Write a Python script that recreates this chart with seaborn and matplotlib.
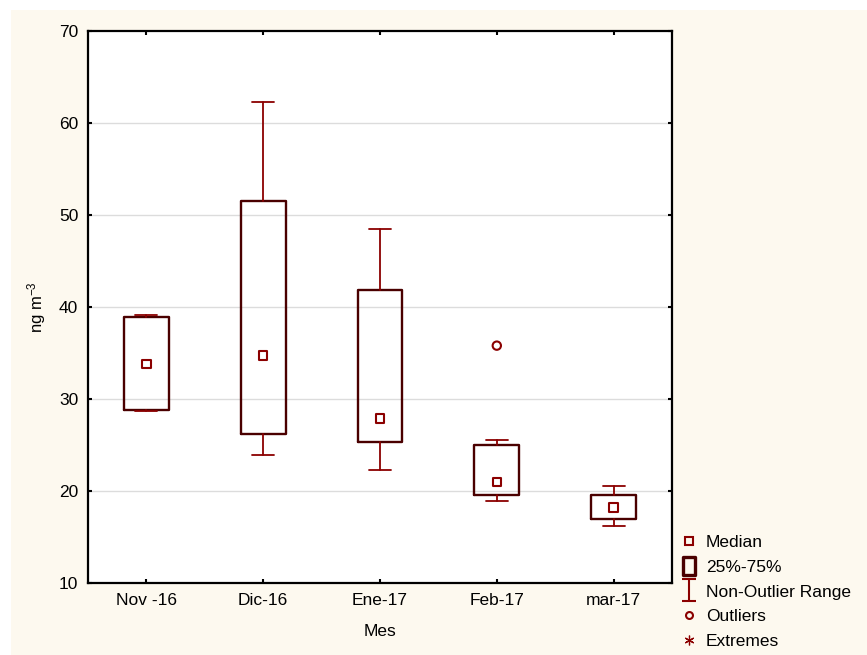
import numpy as np
import pandas as pd
import matplotlib
matplotlib.use("Agg")
import matplotlib.pyplot as plt
import seaborn as sns
from matplotlib.path import Path
from matplotlib.lines import Line2D
from matplotlib.patches import Rectangle

# ---- data ----
months = ["Nov -16", "Dic-16", "Ene-17", "Feb-17", "mar-17"]
whisker_low = [28.7, 23.9, 22.3, 18.9, 16.2]
q1 = [28.8, 26.2, 25.3, 19.6, 17.0]
median = [33.8, 34.7, 27.9, 21.0, 18.2]
q3 = [38.9, 51.5, 41.8, 25.0, 19.6]
whisker_high = [39.1, 62.3, 48.5, 25.5, 20.5]
outlier_month = ["Feb-17"]
outlier_value = [35.8]
y_ticks = [10, 20, 30, 40, 50, 60, 70]

BOX_EDGE = "#4a0000"
RED = "#8b0000"
CREAM = "#fdf9ef"

sns.set_theme(style="white")
plt.rcParams["font.family"] = ["Liberation Sans", "DejaVu Sans"]
plt.rcParams["text.color"] = "black"
plt.rcParams["mathtext.default"] = "regular"

fig = plt.figure(figsize=(8.67, 6.55), dpi=100)
fig.patch.set_facecolor("white")
fig.patches.append(Rectangle((11 / 867, 0), 1 - 11 / 867, (655 - 10) / 655,
                             transform=fig.transFigure, facecolor=CREAM,
                             edgecolor="none", zorder=-10))
ax = fig.add_axes([88 / 867, 1 - 583 / 655, (672 - 88) / 867, (583 - 31) / 655])
ax.set_facecolor("white")

positions = list(range(len(months)))
stats = [dict(whislo=wl, q1=a, med=m, q3=b, whishi=wh, fliers=[])
         for wl, a, m, b, wh in zip(whisker_low, q1, median, q3, whisker_high)]
ax.bxp(stats, positions=positions, widths=0.385, capwidths=0.19,
       showfliers=False, patch_artist=False,
       boxprops=dict(color=BOX_EDGE, linewidth=1.7),
       whiskerprops=dict(color=RED, linewidth=1.3),
       capprops=dict(color=RED, linewidth=1.3),
       medianprops=dict(linestyle="none"), zorder=3)

med_df = pd.DataFrame({"pos": [months.index(m) for m in months], "median": median})
sns.scatterplot(data=med_df, x="pos", y="median", ax=ax, marker="s", s=38,
                facecolor="none", edgecolor=RED, linewidth=1.5, zorder=4)
out_df = pd.DataFrame({"pos": [months.index(m) for m in outlier_month], "value": outlier_value})
sns.scatterplot(data=out_df, x="pos", y="value", ax=ax, marker="o", s=36,
                facecolor="none", edgecolor=RED, linewidth=1.5, zorder=4)

ax.set_xlim(-0.5, len(months) - 0.5)
ax.set_ylim(10, 70)
ax.set_xticks(positions)
ax.set_xticklabels(months)
ax.set_yticks(y_ticks)
for y in y_ticks[1:-1]:
    ax.axhline(y, color="#dcdcdc", linewidth=1.0, zorder=0)

for s in ax.spines.values():
    s.set_visible(True)
    s.set_color("black")
    s.set_linewidth(1.6)
ax.tick_params(axis="both", which="both", direction="in", length=3, width=1.5,
               color="black", labelsize=12.5, labelcolor="black",
               top=True, right=True, bottom=True, left=True)
ax.tick_params(axis="x", pad=7.5)
ax.tick_params(axis="y", pad=7)

ax.set_xlabel("Mes", fontsize=12.5, labelpad=11, color="black")
ax.set_ylabel("ng m$^{-3}$", fontsize=12, labelpad=8, color="black")

# legend
irange = Path([(-0.6, 1), (0.6, 1), (0, 1), (0, -1), (-0.6, -1), (0.6, -1)],
              [Path.MOVETO, Path.LINETO, Path.MOVETO, Path.LINETO, Path.MOVETO, Path.LINETO])
tallbox = Path([(-0.65, -1), (0.65, -1), (0.65, 1), (-0.65, 1), (-0.65, -1)],
               [Path.MOVETO, Path.LINETO, Path.LINETO, Path.LINETO, Path.CLOSEPOLY])
handles = [
    Line2D([], [], ls="none", marker="s", ms=6, mfc="none", mec=RED, mew=1.5),
    Line2D([], [], ls="none", marker=tallbox, ms=13, mfc="none", mec=BOX_EDGE, mew=2.4),
    Line2D([], [], ls="none", marker=irange, ms=16, mfc="none", mec=RED, mew=1.5),
    Line2D([], [], ls="none", marker="o", ms=5, mfc="none", mec=RED, mew=1.5),
    Line2D([], [], ls="none", marker=(6, 2, 0), ms=7, mfc="none", mec=RED, mew=0.9),
]
labels = ["Median", "25%-75%", "Non-Outlier Range", "Outliers", "Extremes"]
fig.legend(handles, labels, loc="upper left", bbox_to_anchor=(680 / 867, 1 - 535 / 655),
           frameon=False, fontsize=12.5, handlelength=1.0, handletextpad=0.5,
           labelspacing=0.55, borderpad=0, borderaxespad=0, labelcolor="black")

fig.savefig("out.png", dpi=100, facecolor=fig.get_facecolor())
